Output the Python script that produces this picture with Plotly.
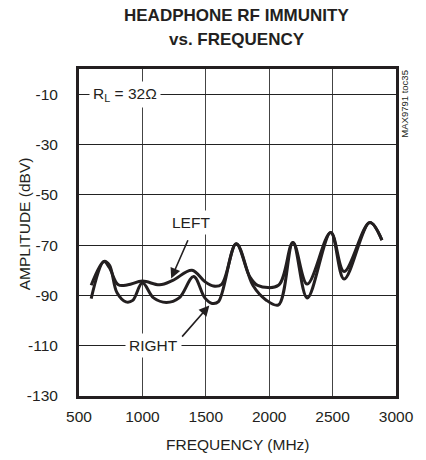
import plotly.graph_objects as go

# Data
freq_left = [596, 697, 740, 810, 886, 1000, 1136, 1240, 1391, 1492, 1560, 1625,
             1740, 1846, 1909, 2073, 2187, 2300, 2485, 2591, 2793, 2889]
amp_left = [-86, -76.5, -79, -85.8, -85.8, -84.3, -85.8, -84, -80, -84.5, -86.3, -85.6,
            -69.5, -82.5, -86, -86, -69, -85.5, -65, -80.5, -61, -68]

freq_right = [596, 697, 740, 800, 870, 924, 1000, 1088, 1189, 1290, 1404, 1492, 1550, 1600,
              1740, 1871, 1972, 2073, 2187, 2300, 2485, 2591, 2793, 2889]
amp_right = [-91.3, -76.5, -78, -89, -92.6, -92, -85, -91, -92.8, -91, -82.5, -91, -93.2, -92.5,
             -69.5, -86, -91.7, -93.8, -69, -91, -65, -83.5, -61, -68]

x_ticks = [500, 1000, 1500, 2000, 2500, 3000]
y_ticks = [-130, -110, -90, -70, -50, -30, -10]

FONT = "Liberation Sans, Arial, Helvetica, sans-serif"
INK = "#231f20"
FS = 15.5

# plot area in pixels: x 79..409, y 69..396
PL, PR, PT, PB = 79, 409, 69, 396
PW, PH = PR - PL, PB - PT


def px(x):
    return (x - PL) / PW


def py(y):
    return (PB - y) / PH


fig = go.Figure()
for fx, fy, name in [(freq_left, amp_left, "LEFT"), (freq_right, amp_right, "RIGHT")]:
    fig.add_trace(go.Scatter(
        x=fx, y=fy, mode="lines", name=name,
        line=dict(color=INK, width=3, shape="spline", smoothing=1.0),
        showlegend=False, hoverinfo="skip"))

fig.update_layout(
    width=426, height=460,
    margin=dict(l=PL, r=426 - PR, t=PT, b=460 - PB),
    paper_bgcolor="white", plot_bgcolor="white",
    font=dict(family=FONT, size=FS, color=INK),
)

fig.update_xaxes(
    range=[500, 3000], tickvals=x_ticks, ticktext=[str(v) for v in x_ticks],
    showgrid=True, gridcolor="#444444", gridwidth=1,
    showline=True, linecolor=INK, linewidth=3, mirror=True,
    ticks="", ticklabelstandoff=4, zeroline=False, ticklabeloverflow="allow",
    tickfont=dict(family=FONT, size=FS, color=INK))
fig.update_yaxes(
    range=[-130, 0], tickvals=y_ticks, ticktext=[str(v) for v in y_ticks],
    showgrid=True, gridcolor="#222222", gridwidth=1,
    showline=True, linecolor=INK, linewidth=3, mirror=True,
    ticks="", ticklabelstandoff=15, zeroline=False, ticklabeloverflow="allow",
    tickfont=dict(family=FONT, size=FS, color=INK))

# Title (two lines)
fig.add_annotation(text="HEADPHONE RF IMMUNITY", xref="paper", yref="paper",
                   x=px(243), y=py(15.5), showarrow=False,
                   font=dict(family=FONT, size=17, color=INK, weight="bold"),
                   xanchor="center", yanchor="middle")
fig.add_annotation(text="vs. FREQUENCY", xref="paper", yref="paper",
                   x=px(243), y=py(39.5), showarrow=False,
                   font=dict(family=FONT, size=17, color=INK, weight="bold"),
                   xanchor="center", yanchor="middle")

# Axis titles
fig.add_annotation(text="FREQUENCY (MHz)", xref="paper", yref="paper",
                   x=px(244), y=py(444), showarrow=False,
                   font=dict(family=FONT, size=FS, color=INK),
                   xanchor="center", yanchor="middle")
fig.add_annotation(text="AMPLITUDE (dBV)", xref="paper", yref="paper",
                   x=px(22), y=py(224), showarrow=False,
                   textangle=-90, font=dict(family=FONT, size=FS, color=INK),
                   xanchor="center", yanchor="middle")

# Side label
fig.add_annotation(text="MAX9791 toc35", xref="paper", yref="paper",
                   x=px(417), y=py(104), showarrow=False,
                   textangle=-90, font=dict(family=FONT, size=9.5, color=INK),
                   xanchor="center", yanchor="middle")

# R_L label
fig.add_annotation(text="R<sub>L</sub> = 32Ω", x=864, y=-10, xref="x", yref="y",
                   showarrow=False, bgcolor="white", borderpad=3,
                   font=dict(family=FONT, size=FS, color=INK))

# Curve labels
fig.add_annotation(text="LEFT", x=1386, y=-61, xref="x", yref="y",
                   showarrow=False, bgcolor="white", borderpad=3,
                   font=dict(family=FONT, size=FS, color=INK))
fig.add_annotation(text="RIGHT", x=1091, y=-110, xref="x", yref="y",
                   showarrow=False, bgcolor="white", borderpad=3,
                   font=dict(family=FONT, size=FS, color=INK))

# Arrows
fig.add_annotation(text="", x=1227, y=-83.3, ax=1364, ay=-67.5,
                   xref="x", yref="y", axref="x", ayref="y",
                   showarrow=True, arrowhead=2, arrowsize=1.3, arrowwidth=1.6,
                   arrowcolor=INK)
fig.add_annotation(text="", x=1528, y=-94, ax=1303, ay=-107,
                   xref="x", yref="y", axref="x", ayref="y",
                   showarrow=True, arrowhead=2, arrowsize=1.3, arrowwidth=1.6,
                   arrowcolor=INK)

fig.write_html("out.html",
               config={"displayModeBar": False, "staticPlot": True},
               post_script="document.body.style.margin='0';"
                           "document.body.style.overflow='hidden';")
